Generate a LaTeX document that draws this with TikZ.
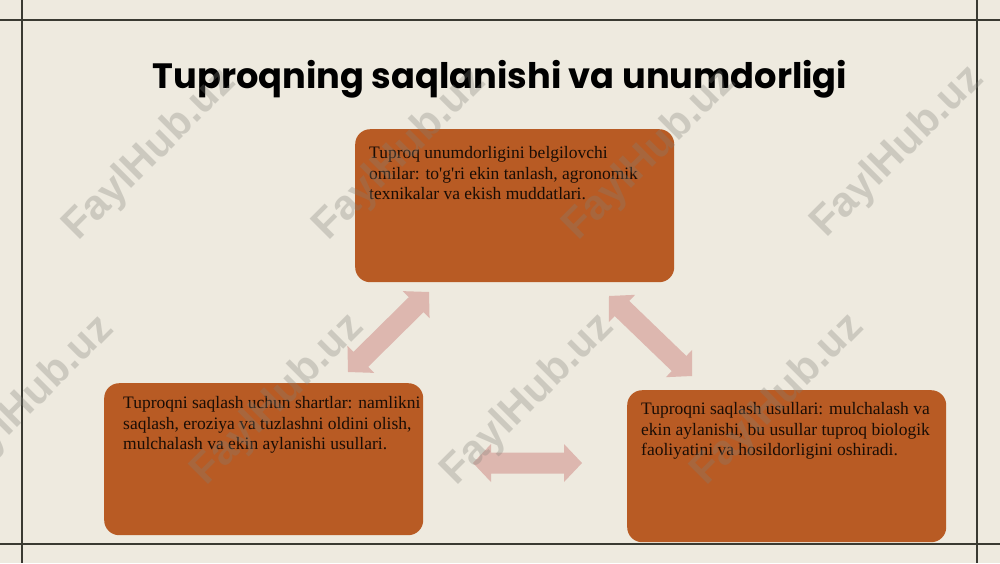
\documentclass[tikz,border=0pt]{standalone}
\usepackage{fontspec}
\setmainfont{Liberation Serif}
\newfontfamily\titlefont{Poppins}
\newfontfamily\wmfont{Liberation Sans}
\usetikzlibrary{calc}
\definecolor{bgc}{HTML}{EEEADF}
\definecolor{boxc}{HTML}{B85B24}
\definecolor{arrc}{HTML}{DDB7AF}
\definecolor{txtc}{HTML}{1A0D05}
\definecolor{framec}{HTML}{3A3A32}
\definecolor{wmc}{HTML}{808078}
\tikzset{
  boxstyle/.style={fill=boxc, rounded corners=15pt, inner sep=0pt, anchor=north west},
  txtstyle/.style={text=txtc, align=left, inner sep=0pt, anchor=north west,
    font=\fontsize{17.5}{20.5}\selectfont},
  framestyle/.style={draw=framec, line width=1.4pt},
  arrowfill/.style={fill=arrc},
  wmstyle/.style={text=wmc, text opacity=0.3, rotate=45, inner sep=0pt,
    font=\wmfont\bfseries\fontsize{42}{42}\selectfont},
  titlestyle/.style={text=black, inner sep=0pt, anchor=base,
    font=\titlefont\bfseries\fontsize{35.2}{38}\selectfont}
}
% block double arrow between two named coordinates
\newcommand\dblarrow[3]{%
  \coordinate (#3-p) at ($(#1)!18pt!(#2)$);
  \coordinate (#3-q) at ($(#2)!18pt!(#1)$);
  \fill[arrowfill] (#1)
    -- ($(#3-p)!19pt!90:(#2)$) -- ($(#3-p)!10.5pt!90:(#2)$)
    -- ($(#3-q)!10.5pt!90:(#2)$) -- ($(#3-q)!19pt!90:(#2)$)
    -- (#2)
    -- ($(#3-q)!19pt!-90:(#2)$) -- ($(#3-q)!10.5pt!-90:(#2)$)
    -- ($(#3-p)!10.5pt!-90:(#2)$) -- ($(#3-p)!19pt!-90:(#2)$)
    -- cycle;}
\begin{document}
\begin{tikzpicture}[x=1pt,y=-1pt]
\useasboundingbox (0,0) rectangle (1000,563);
\fill[bgc] (0,0) rectangle (1000,563);
% frame lines
\draw[framestyle] (0,20) -- (1000,20);
\draw[framestyle] (0,544) -- (1000,544);
\draw[framestyle] (22,0) -- (22,563);
\draw[framestyle] (977,0) -- (977,563);
% title
\node[titlestyle] (title) at (500,88) {Tuproqning saqlanishi va unumdorligi};
% boxes
\node[boxstyle, minimum width=319pt, minimum height=153pt] (top) at (355,129) {};
\node[boxstyle, minimum width=319pt, minimum height=152pt] (left) at (104,383) {};
\node[boxstyle, minimum width=319pt, minimum height=152pt] (right) at (627,390) {};
\node[txtstyle] (toptxt) at (369,146.3) {Tuproq unumdorligini belgilovchi\\omilar: to\textquotesingle g\textquotesingle ri ekin tanlash, agronomik\\texnikalar va ekish muddatlari.};
\node[txtstyle] (lefttxt) at (123,396.3) {Tuproqni saqlash uchun shartlar: namlikni\\saqlash, eroziya va tuzlashni oldini olish,\\mulchalash va ekin aylanishi usullari.};
\node[txtstyle] (righttxt) at (641,402.3) {Tuproqni saqlash usullari: mulchalash va\\ekin aylanishi, bu usullar tuproq biologik\\faoliyatini va hosildorligini oshiradi.};
% arrows
\coordinate (a1s) at (348,372);
\coordinate (a1e) at (429,292);
\coordinate (a2s) at (609,296);
\coordinate (a2e) at (692,376);
\coordinate (a3s) at (473,463);
\coordinate (a3e) at (582,463);
\dblarrow{a1s}{a1e}{arr1}
\dblarrow{a2s}{a2e}{arr2}
\dblarrow{a3s}{a3e}{arr3}
% watermarks
\node[wmstyle] (wm1) at (150,155) {FaylHub.uz};
\node[wmstyle] (wm2) at (400,155) {FaylHub.uz};
\node[wmstyle] (wm3) at (650,155) {FaylHub.uz};
\node[wmstyle] (wm4) at (898,152) {FaylHub.uz};
\node[wmstyle] (wm5) at (28,402) {FaylHub.uz};
\node[wmstyle] (wm6) at (278,400) {FaylHub.uz};
\node[wmstyle] (wm7) at (528,400) {FaylHub.uz};
\node[wmstyle] (wm8) at (778,400) {FaylHub.uz};
\end{tikzpicture}
\end{document}
